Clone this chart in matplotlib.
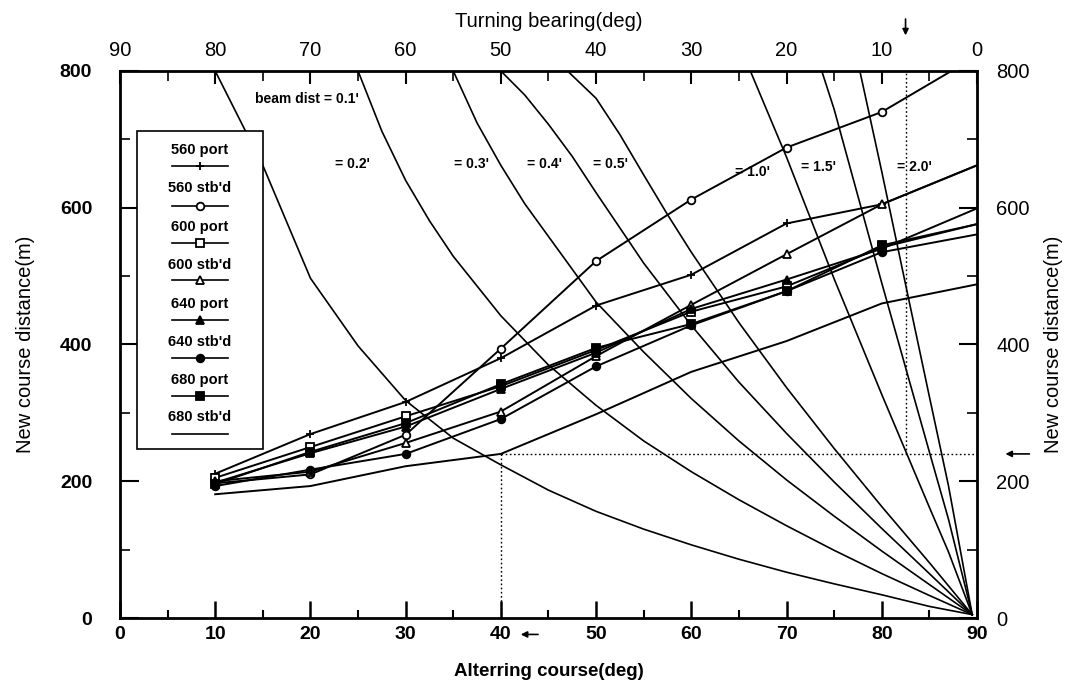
import matplotlib
matplotlib.use("Agg")
import matplotlib.pyplot as plt
from matplotlib.lines import Line2D
from matplotlib.patches import Rectangle

plt.rcParams["font.family"] = ["Liberation Sans", "DejaVu Sans"]

# altering course (deg) at which each run was evaluated
course = [10, 20, 30, 40, 50, 60, 70, 80, 90]

# new course distance (m) per ship / turning side
d560_port = [211, 269, 316, 380, 457, 502, 577, 605, 662]
d560_stbd = [197, 210, 268, 394, 522, 612, 688, 740, 822]
d600_port = [205, 250, 295, 339, 392, 448, 485, 542, 576]
d600_stbd = [200, 214, 256, 302, 383, 458, 532, 605, 662]
d640_port = [198, 241, 280, 335, 388, 452, 495, 540, 599]
d640_stbd = [193, 217, 240, 291, 368, 428, 478, 535, 561]
d680_port = [196, 243, 285, 342, 395, 430, 478, 545, 576]
d680_stbd = [181, 193, 222, 240, 298, 360, 405, 460, 488]

# beam distance curves (course deg, distance m)
bd01_x = [10, 15, 20, 25, 30, 35, 40, 45, 50, 55, 60, 65, 70, 75, 80, 85, 89.5]
bd01_y = [800, 662, 497, 398, 318, 263, 224, 187, 156, 130, 107, 86, 67, 50, 34, 17, 5]
bd02_x = [25, 27.5, 30, 32.5, 35, 40, 45, 50, 55, 60, 65, 70, 75, 80, 85, 89.5]
bd02_y = [800, 712, 640, 581, 529, 442, 370, 311, 259, 214, 173, 135, 99, 65, 33, 5]
bd03_x = [35, 37.5, 40, 42.5, 45, 50, 55, 60, 65, 70, 75, 80, 85, 89.5]
bd03_y = [800, 724, 662, 606, 558, 462, 389, 321, 259, 202, 149, 98, 49, 5]
bd04_x = [40, 42.5, 45, 47.5, 50, 55, 60, 65, 70, 75, 80, 85, 89.5]
bd04_y = [800, 765, 722, 675, 622, 519, 428, 345, 270, 199, 131, 65, 5]
bd05_x = [47, 50, 52.5, 55, 57.5, 60, 65, 70, 75, 80, 85, 89.5]
bd05_y = [800, 760, 707, 648, 590, 535, 432, 337, 248, 163, 81, 5]
bd10_x = [66.2, 70, 75, 80, 85, 87, 89.5]
bd10_y = [800, 674, 496, 327, 162, 97, 5]
bd15_x = [73.7, 75, 80, 85, 87, 89.5]
bd15_y = [800, 744, 490, 243, 145, 5]
bd20_x = [77.7, 80, 82.5, 85, 87, 89.5]
bd20_y = [800, 653, 488, 324, 194, 5]

# worked example: 40 deg alteration -> 240 m -> turning bearing 7.5 deg
ex_course = 40
ex_dist = 240
ex_bearing = 7.5

series = [
    ("560 port", d560_port, "+", "k"),
    ("560 stb'd", d560_stbd, "o", "white"),
    ("600 port", d600_port, "s", "white"),
    ("600 stb'd", d600_stbd, "^", "white"),
    ("640 port", d640_port, "^", "k"),
    ("640 stb'd", d640_stbd, "o", "k"),
    ("680 port", d680_port, "s", "k"),
    ("680 stb'd", d680_stbd, None, "k"),
]

fig = plt.figure(figsize=(10.75, 6.87), dpi=100)
ax = fig.add_axes([0.1116, 0.1004, 0.7972, 0.7963])
ax.set_xlim(0, 90)
ax.set_ylim(0, 800)

for label, d, mk, fc in series:
    ax.plot(course, d, color="k", lw=1.4, marker=mk, ms=5.5, mfc=fc, mec="k",
            mew=1.3, markevery=slice(0, 8), zorder=3)

beams = [(bd01_x, bd01_y), (bd02_x, bd02_y), (bd03_x, bd03_y), (bd04_x, bd04_y),
         (bd05_x, bd05_y), (bd10_x, bd10_y), (bd15_x, bd15_y), (bd20_x, bd20_y)]
for bx, by in beams:
    ax.plot(bx, by, color="k", lw=1.2, zorder=2)

beam_labels = [("beam dist = 0.1'", 19.6, 759), ("= 0.2'", 24.4, 664), ("= 0.3'", 36.9, 664),
               ("= 0.4'", 44.6, 664), ("= 0.5'", 51.5, 664), ("= 1.0'", 66.4, 652),
               ("= 1.5'", 73.4, 659), ("= 2.0'", 83.4, 659)]
for txt, tx, ty in beam_labels:
    ax.text(tx, ty, txt, ha="center", va="center", fontsize=10, fontweight="bold", zorder=4)

# example read-off guides
dot = dict(color="k", lw=1.0, ls=(0, (1.2, 1.8)), zorder=1)
ax.plot([ex_course, 90], [ex_dist, ex_dist], **dot)
ax.plot([ex_course, ex_course], [0, ex_dist], **dot)
ax.plot([90 - ex_bearing, 90 - ex_bearing], [ex_dist, 800], **dot)
arw = dict(arrowstyle="-|>", color="k", lw=1.2, mutation_scale=9)
ax.annotate("", xy=(90 - ex_bearing, 848), xytext=(90 - ex_bearing, 880),
            arrowprops=arw, annotation_clip=False)
ax.annotate("", xy=(92.7, ex_dist), xytext=(95.8, ex_dist),
            arrowprops=arw, annotation_clip=False)
ax.annotate("", xy=(41.8, -24), xytext=(44.2, -24),
            arrowprops=arw, annotation_clip=False)

# legend: label above each line sample
ax.add_patch(Rectangle((0.0198, 0.3095), 0.1472, 0.5815, transform=ax.transAxes,
                       facecolor="white", edgecolor="k", lw=1.2, zorder=5))
text_y = [150, 188, 227, 265, 304, 342, 380, 417]
line_y = [166, 206, 243, 280, 320, 358, 396, 434]
for (label, d, mk, fc), ty, ly in zip(series, text_y, line_y):
    ay_t = (618.3 - ty) / 547
    ay_l = (618.3 - ly) / 547
    ax.text(0.0933, ay_t, label, transform=ax.transAxes, ha="center", va="center",
            fontsize=10.5, fontweight="bold", zorder=6)
    ax.add_line(Line2D([0.0607, 0.0933, 0.126], [ay_l] * 3, transform=ax.transAxes,
                       color="k", lw=1.2, marker=mk, ms=5.5, mfc=fc, mec="k", mew=1.3,
                       markevery=[1], zorder=6))

for s in ax.spines.values():
    s.set_linewidth(2)

ax.set_xticks(range(0, 91, 10))
ax.set_xticks(range(5, 90, 10), minor=True)
ax.set_yticks(range(0, 801, 200))
ax.set_yticks(range(100, 800, 200), minor=True)
ax.tick_params(axis="x", which="major", direction="in", length=12, width=1.8,
               labelsize=14, pad=6)
ax.tick_params(axis="x", which="minor", direction="in", length=6, width=1.5)
ax.tick_params(axis="y", which="major", direction="in", length=14, width=1.5,
               labelsize=14, pad=20)
ax.tick_params(axis="y", which="minor", direction="in", length=7, width=1.2)
for t in ax.get_xticklabels() + ax.get_yticklabels():
    t.set_fontweight("bold")
ax.set_xlabel("Alterring course(deg)", fontsize=13.5, fontweight="bold", labelpad=14)
ax.set_ylabel("New course distance(m)", fontsize=14.5, labelpad=18)

top = ax.secondary_xaxis("top", functions=(lambda c: 90 - c, lambda b: 90 - b))
top.set_xticks(range(0, 91, 10))
top.set_xticks(range(5, 91, 10), minor=True)
top.tick_params(which="major", direction="in", length=9, width=1.5, labelsize=14.5, pad=8)
top.tick_params(which="minor", direction="in", length=7, width=1.2)
top.set_xlabel("Turning bearing(deg)", fontsize=14.5, labelpad=10)

right = ax.secondary_yaxis("right")
right.set_yticks(range(0, 801, 200))
right.set_yticks(range(100, 800, 200), minor=True)
right.tick_params(which="major", direction="in", length=13, width=1.5, labelsize=14.5, pad=14)
right.tick_params(which="minor", direction="in", length=7, width=1.2)
right.set_ylabel("New course distance(m)", fontsize=14.5, labelpad=10)

fig.savefig("out.png", dpi=100)
